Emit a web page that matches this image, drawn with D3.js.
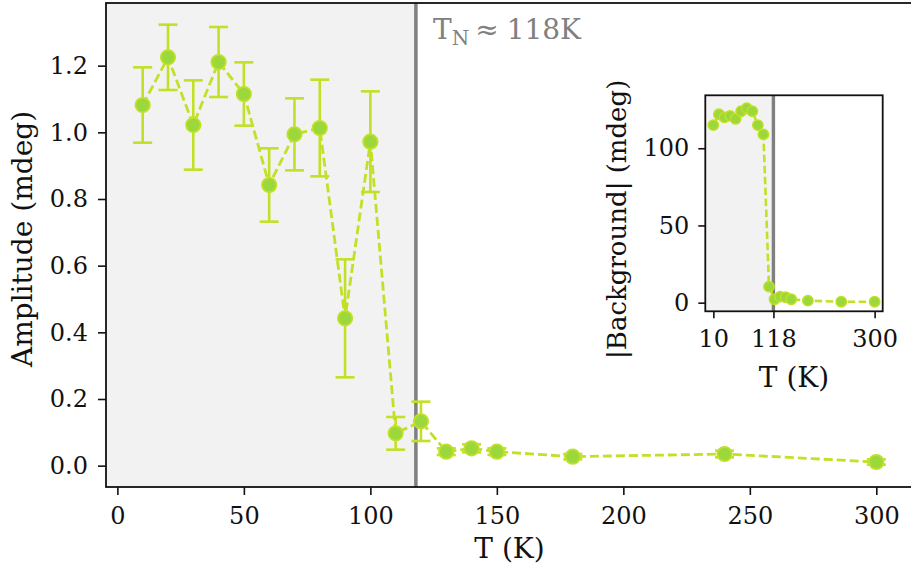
<!DOCTYPE html>
<html>
<head>
<meta charset="utf-8">
<script src="https://cdn.jsdelivr.net/npm/d3@7"></script>
<style>
  html, body { margin: 0; padding: 0; background: #ffffff; }
  svg { display: block; }
  text { font-family: "DejaVu Serif", serif; fill: #111; }
</style>
</head>
<body>
<svg id="chart" width="911" height="569"></svg>
<script>
// Amplitude versus temperature, with error bars
const temps = [10, 20, 30, 40, 50, 60, 70, 80, 90, 100, 110, 120, 130, 140, 150, 180, 240, 300];
const amplitude = [1.082, 1.225, 1.022, 1.211, 1.115, 0.842, 0.994, 1.013, 0.442, 0.972,
                   0.097, 0.133, 0.042, 0.052, 0.042, 0.027, 0.035, 0.011];
const amplitudeErr = [0.113, 0.098, 0.134, 0.105, 0.095, 0.110, 0.108, 0.145, 0.177, 0.151,
                      0.049, 0.059, 0.010, 0.012, 0.010, 0.008, 0.010, 0.008];

// |Background| versus temperature (inset)
const bgTemps = [10, 20, 30, 40, 50, 60, 70, 80, 90, 100, 110, 120, 130, 140, 150, 180, 240, 300];
const background = [115, 122, 120, 121, 119, 124, 126, 124, 115, 109, 10.4, 2.2, 3.9, 3.5, 2.2, 1.3, 0.6, 0.6];

const mainXTicks = [0, 50, 100, 150, 200, 250, 300];
const mainYTicks = [0.0, 0.2, 0.4, 0.6, 0.8, 1.0, 1.2];
const insetXTicks = [10, 118, 300];
const insetYTicks = [0, 50, 100];
const neelTemp = 118;

const lineColor = "#c2e027";
const faceColor = "#9bd83b";
const shadeColor = "#f2f2f2";
const vlineColor = "#808080";

const svg = d3.select("#chart");

function styleAxis(g) {
  g.select(".domain").remove();
  g.selectAll(".tick line").attr("stroke", "#111").attr("stroke-width", 1.6);
  g.selectAll(".tick text").attr("fill", "#111")
    .style("font-family", "DejaVu Serif").style("font-size", "24px");
}

// ---------- main axes ----------
const M = { left: 106, right: 913, top: 3, bottom: 487 };
const x = d3.scaleLinear().domain([-4.5, 314.5]).range([M.left, M.right]);
const y = d3.scaleLinear().domain([-0.064, 1.388]).range([M.bottom, M.top]);

const main = svg.append("g");

main.append("rect")
  .attr("x", M.left).attr("y", M.top)
  .attr("width", x(neelTemp) - M.left).attr("height", M.bottom - M.top)
  .attr("fill", shadeColor);

main.append("line")
  .attr("x1", x(neelTemp)).attr("x2", x(neelTemp))
  .attr("y1", M.top).attr("y2", M.bottom)
  .attr("stroke", vlineColor).attr("stroke-width", 3.5);

const pts = temps.map((t, i) => ({ t, v: amplitude[i], e: amplitudeErr[i] }));

main.append("path")
  .datum(pts)
  .attr("fill", "none")
  .attr("stroke", lineColor)
  .attr("stroke-width", 2.8)
  .attr("stroke-dasharray", "9,4")
  .attr("d", d3.line().x(d => x(d.t)).y(d => y(d.v)));

const eb = main.append("g").attr("stroke", lineColor).attr("stroke-width", 2.6);
pts.forEach(d => {
  eb.append("line").attr("x1", x(d.t)).attr("x2", x(d.t))
    .attr("y1", y(d.v - d.e)).attr("y2", y(d.v + d.e));
  [d.v - d.e, d.v + d.e].forEach(c => {
    eb.append("line").attr("x1", x(d.t) - 9.5).attr("x2", x(d.t) + 9.5)
      .attr("y1", y(c)).attr("y2", y(c));
  });
});

main.append("g").selectAll("circle").data(pts).join("circle")
  .attr("cx", d => x(d.t)).attr("cy", d => y(d.v)).attr("r", 7.2)
  .attr("fill", faceColor).attr("stroke", lineColor).attr("stroke-width", 1.8);

// spines
main.append("rect").attr("x", M.left).attr("y", M.top)
  .attr("width", M.right - M.left).attr("height", M.bottom - M.top)
  .attr("fill", "none").attr("stroke", "#111").attr("stroke-width", 1.8);

// axes
const gx = main.append("g").attr("transform", `translate(0,${M.bottom})`)
  .call(d3.axisBottom(x).tickValues(mainXTicks).tickFormat(d3.format("d")).tickSize(8).tickPadding(12));
const gy = main.append("g").attr("transform", `translate(${M.left},0)`)
  .call(d3.axisLeft(y).tickValues(mainYTicks).tickFormat(d3.format(".1f")).tickSize(8).tickPadding(10));
styleAxis(gx);
styleAxis(gy);

main.append("text")
  .attr("x", (M.left + M.right) / 2).attr("y", 558)
  .attr("text-anchor", "middle").style("font-size", "28px")
  .text("T (K)");

main.append("text")
  .attr("transform", `translate(32,${(M.top + M.bottom) / 2 - 6}) rotate(-90)`)
  .attr("text-anchor", "middle").style("font-size", "28px")
  .text("Amplitude (mdeg)");

// Néel temperature annotation
const ann = main.append("text")
  .attr("x", 433).attr("y", 39)
  .style("font-size", "28px").style("fill", vlineColor);
ann.append("tspan").style("fill", vlineColor).text("T");
ann.append("tspan").style("fill", vlineColor).style("font-size", "20px").attr("dy", 6).text("N");
ann.append("tspan").style("fill", vlineColor).attr("dy", -6).attr("dx", 6).text("≈");
ann.append("tspan").style("fill", vlineColor).attr("dx", 8).text("118K");

// ---------- inset axes ----------
const I = { left: 705.3, right: 882.7, top: 95.3, bottom: 311.3 };
const xi = d3.scaleLinear().domain([-4.5, 314.5]).range([I.left, I.right]);
const yi = d3.scaleLinear().domain([-5.6, 134.3]).range([I.bottom, I.top]);

const inset = svg.append("g");
inset.append("rect").attr("x", I.left).attr("y", I.top)
  .attr("width", I.right - I.left).attr("height", I.bottom - I.top).attr("fill", "#fff");
inset.append("rect").attr("x", I.left).attr("y", I.top)
  .attr("width", xi(neelTemp) - I.left).attr("height", I.bottom - I.top).attr("fill", shadeColor);
inset.append("line")
  .attr("x1", xi(neelTemp)).attr("x2", xi(neelTemp))
  .attr("y1", I.top).attr("y2", I.bottom)
  .attr("stroke", vlineColor).attr("stroke-width", 3.4);

const bgPts = bgTemps.map((t, i) => ({ t, v: background[i] }));
inset.append("path")
  .datum(bgPts)
  .attr("fill", "none").attr("stroke", lineColor).attr("stroke-width", 2.6)
  .attr("stroke-dasharray", "7.5,3.5")
  .attr("d", d3.line().x(d => xi(d.t)).y(d => yi(d.v)));
inset.append("g").selectAll("circle").data(bgPts).join("circle")
  .attr("cx", d => xi(d.t)).attr("cy", d => yi(d.v)).attr("r", 5.2)
  .attr("fill", faceColor).attr("stroke", lineColor).attr("stroke-width", 1.5);

inset.append("rect").attr("x", I.left).attr("y", I.top)
  .attr("width", I.right - I.left).attr("height", I.bottom - I.top)
  .attr("fill", "none").attr("stroke", "#111").attr("stroke-width", 1.8);

const gxi = inset.append("g").attr("transform", `translate(0,${I.bottom})`)
  .call(d3.axisBottom(xi).tickValues(insetXTicks).tickFormat(d3.format("d")).tickSize(7).tickPadding(12));
const gyi = inset.append("g").attr("transform", `translate(${I.left},0)`)
  .call(d3.axisLeft(yi).tickValues(insetYTicks).tickFormat(d3.format("d")).tickSize(7).tickPadding(9));
styleAxis(gxi);
styleAxis(gyi);

inset.append("text")
  .attr("x", (I.left + I.right) / 2).attr("y", 387)
  .attr("text-anchor", "middle").style("font-size", "28px")
  .text("T (K)");
inset.append("text")
  .attr("transform", `translate(626,${(I.top + I.bottom) / 2 + 16}) rotate(-90)`)
  .attr("text-anchor", "middle").style("font-size", "26px")
  .text("|Background| (mdeg)");
</script>
</body>
</html>
